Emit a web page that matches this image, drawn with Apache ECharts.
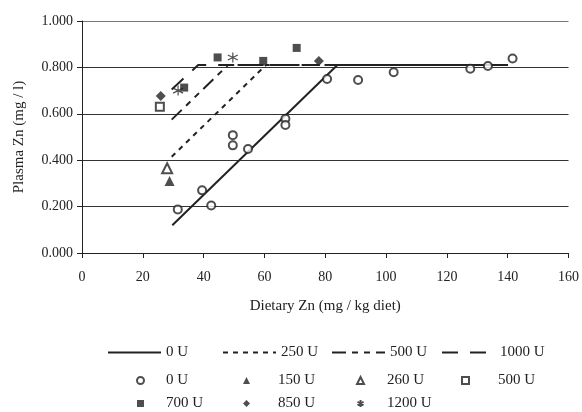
<!DOCTYPE html>
<html>
<head>
<meta charset="utf-8">
<script src="https://cdn.jsdelivr.net/npm/echarts@6/dist/echarts.min.js"></script>
<style>html,body{margin:0;padding:0;background:#fff}#c{width:582px;height:412px}</style>
</head>
<body>
<div id="c"></div>
<script>
// Fitted broken-line models: [x, y] points (start, breakpoint, end)
const line0U    = [[29.7, 0.12], [84.0, 0.81], [140, 0.81]];
const line250U  = [[29.5, 0.415], [60.5, 0.81], [140, 0.81]];
const line500U  = [[29.5, 0.575], [48.0, 0.81], [140, 0.81]];
const line1000U = [[29.5, 0.705], [38.2, 0.81], [140, 0.81]];

// Observed points
const obs0U_x = [31.5, 39.5, 42.5, 49.6, 49.6, 54.6, 66.9, 66.9, 80.6, 90.8, 102.5, 127.7, 133.5, 141.6];
const obs0U_y = [0.188, 0.270, 0.205, 0.508, 0.464, 0.448, 0.579, 0.552, 0.750, 0.746, 0.779, 0.794, 0.806, 0.838];
const obs150U_x = [28.8];  const obs150U_y = [0.310];
const obs260U_x = [28.0];  const obs260U_y = [0.365];
const obs500U_x = [25.6];  const obs500U_y = [0.630];
const obs700U_x = [33.6, 44.6, 59.6, 70.6];
const obs700U_y = [0.713, 0.843, 0.828, 0.884];
const obs850U_x = [25.9, 77.9]; const obs850U_y = [0.677, 0.828];
const obs1200U_x = [31.6, 49.6]; const obs1200U_y = [0.700, 0.843];

const xTicks = {min: 0, max: 160, interval: 20};
const yTicks = {min: 0, max: 1, interval: 0.2};

const pts = (xs, ys) => xs.map((x, i) => [x, ys[i]]);
const FONT = 'Liberation Serif';
const INK = '#222';
const star = 'path://M0,-5L0,5M-4.33,-2.5L4.33,2.5M-4.33,2.5L4.33,-2.5';

function lineSeries(name, data, dash) {
  return {name, type: 'line', data, symbol: 'none', silent: true,
    lineStyle: {color: INK, width: 2, type: dash}, itemStyle: {color: INK}, z: 2};
}
function scatterSeries(name, data, symbol, size, filled) {
  return {name, type: 'scatter', data, symbol, symbolSize: size, z: 3,
    itemStyle: filled === 'star' ? {color: 'none', borderColor: INK, borderWidth: 1.2}
      : filled ? {color: INK} : {color: INK, borderWidth: 1}};
}

const series = [
  lineSeries('0 U ', line0U, 'solid'),
  lineSeries('250 U ', line250U, [5, 5]),
  lineSeries('500 U ', line500U, [14, 6, 6, 6, 6, 6]),
  lineSeries('1000 U ', line1000U, [16, 12]),
  scatterSeries('0 U', pts(obs0U_x, obs0U_y), 'emptyCircle', 8, false),
  scatterSeries('150 U', pts(obs150U_x, obs150U_y), 'triangle', 10, true),
  scatterSeries('260 U', pts(obs260U_x, obs260U_y), 'emptyTriangle', 10, false),
  scatterSeries('500 U', pts(obs500U_x, obs500U_y), 'emptyRect', 8, false),
  scatterSeries('700 U', pts(obs700U_x, obs700U_y), 'rect', 8, true),
  scatterSeries('850 U', pts(obs850U_x, obs850U_y), 'diamond', 10, true),
  scatterSeries('1200 U', pts(obs1200U_x, obs1200U_y), star, 10, 'star')
];

const txt = {fontFamily: FONT, fontSize: 15, color: INK};
function lineLegend(name, left) {
  return {data: [name], left, top: 345, itemWidth: 53, itemHeight: 12, itemGap: 0,
    padding: 0, textStyle: txt, selectedMode: false,
    itemStyle: {opacity: 0}};
}
function markerLegend(names, left, pad) {
  return {data: names, left, top: 373, height: 40, orient: 'vertical', itemWidth: 7, itemHeight: 7,
    itemGap: 8, padding: 0, selectedMode: false,
    formatter: n => '{a|' + n + '}',
    textStyle: {fontFamily: FONT, fontSize: 15, color: INK,
      rich: {a: {fontFamily: FONT, fontSize: 15, color: INK, padding: [0, 0, 0, pad]}}}};
}

const option = {
  animation: false,
  backgroundColor: '#fff',
  textStyle: {fontFamily: FONT},
  grid: {left: 82, right: 12, top: 21, bottom: 159},
  xAxis: {type: 'value', min: xTicks.min, max: xTicks.max, interval: xTicks.interval,
    name: 'Dietary Zn (mg / kg diet)', nameLocation: 'middle', nameGap: 46,
    nameTextStyle: {fontFamily: FONT, fontSize: 15, color: INK},
    axisLine: {lineStyle: {color: INK, width: 1}},
    axisTick: {show: true, length: 5, lineStyle: {color: INK}},
    axisLabel: {fontFamily: FONT, fontSize: 14, color: INK, margin: 17},
    splitLine: {show: false}},
  yAxis: {type: 'value', min: yTicks.min, max: yTicks.max, interval: yTicks.interval,
    name: 'Plasma Zn (mg / l)', nameLocation: 'middle', nameGap: 55,
    nameTextStyle: {fontFamily: FONT, fontSize: 15, color: INK},
    axisLine: {show: true, lineStyle: {color: INK, width: 1}},
    axisTick: {show: true, length: 5, lineStyle: {color: INK}},
    axisLabel: {fontFamily: FONT, fontSize: 14, color: INK, margin: 9,
      formatter: v => v.toFixed(3)},
    splitLine: {show: true, lineStyle: {color: ['#333', '#333', '#333', '#333', '#333', '#777'], width: 1}}},
  legend: [
    lineLegend('0 U ', 107),
    lineLegend('250 U ', 222),
    lineLegend('500 U ', 331),
    lineLegend('1000 U ', 441),
    markerLegend(['0 U', '700 U'], 136, 17),
    markerLegend(['150 U', '850 U'], 243, 23),
    markerLegend(['260 U', '1200 U'], 355, 18),
    markerLegend(['500 U'], 461, 24)
  ],
  series
};
echarts.init(document.getElementById('c')).setOption(option);
</script>
</body>
</html>
